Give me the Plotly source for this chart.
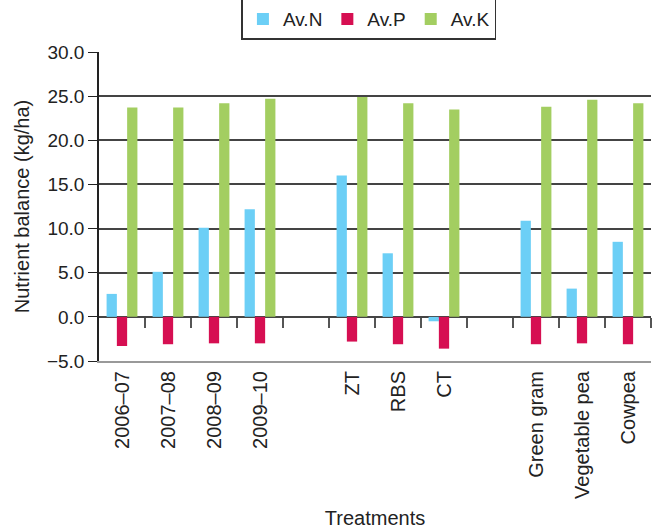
import plotly.graph_objects as go

# Slots along the x axis; None marks an empty spacer slot between groups
categories = ["2006–07", "2007–08", "2008–09", "2009–10", None,
              "ZT", "RBS", "CT", None,
              "Green gram", "Vegetable pea", "Cowpea"]

av_n = [2.6, 5.1, 10.1, 12.2, None, 16.0, 7.2, -0.5, None, 10.9, 3.2, 8.5]
av_p = [-3.3, -3.1, -3.0, -3.0, None, -2.8, -3.1, -3.6, None, -3.1, -3.0, -3.1]
av_k = [23.7, 23.7, 24.2, 24.7, None, 24.9, 24.2, 23.5, None, 23.8, 24.6, 24.2]

y_ticks = [-5, 0, 5, 10, 15, 20, 25, 30]

x_pos = list(range(len(categories)))
label_pos = [i for i, c in enumerate(categories) if c is not None]
label_txt = [c for c in categories if c is not None]
boundaries = [i + 0.5 for i in x_pos]

FONT = "Liberation Sans, Arial, sans-serif"
FS = 20

fig = go.Figure()
series = [("Av.N", av_n, "#6CCFF6"), ("Av.P", av_p, "#D60F52"), ("Av.K", av_k, "#A3CE61")]
for name, vals, col in series:
    fig.add_trace(go.Bar(x=x_pos, y=vals, name=name, marker=dict(color=col, line=dict(width=0))))

# helper trace bound to the label axis so it is rendered
fig.add_trace(go.Scatter(x=[x_pos[0]], y=[0], xaxis="x2", mode="markers",
                         marker=dict(opacity=0), showlegend=False, hoverinfo="skip"))

ymin, ymax = -5, 30
xr = [-0.5, len(categories) - 0.5]
fig.update_layout(
    width=655, height=529,
    margin=dict(l=99, r=4, t=52, b=168, autoexpand=False),
    paper_bgcolor="white", plot_bgcolor="white",
    barmode="group", bargap=0.33, bargroupgap=0,
    font=dict(family=FONT, size=FS, color="#222"),
    showlegend=True,
    legend=dict(orientation="h", x=0.489, xanchor="center", y=1.04, yanchor="bottom",
                bordercolor="#333", borderwidth=1.5, font=dict(size=19),
                itemsizing="constant", tracegroupgap=0),
    # axis along the zero line carrying the boundary tick marks
    xaxis=dict(range=xr, anchor="free", position=(0 - ymin) / (ymax - ymin),
               tickmode="array", tickvals=boundaries, ticks="outside", ticklen=10,
               tickwidth=1.5, tickcolor="#555", showticklabels=False,
               showgrid=False, zeroline=False, showline=False),
    # axis at the bottom carrying the category labels
    xaxis2=dict(range=xr, overlaying="x", anchor="y", side="bottom",
                tickmode="array", tickvals=label_pos, ticktext=label_txt, tickangle=-90,
                ticks="", showgrid=False, zeroline=False,
                showline=True, linecolor="#999", linewidth=2,
                title=dict(text="Treatments", font=dict(size=FS), standoff=14),
                tickfont=dict(size=FS)),
    yaxis=dict(range=[ymin, ymax], tickmode="array", tickvals=y_ticks,
               tickformat=".1f", ticks="outside", ticklen=9, tickcolor="#222",
               tickwidth=1.2, showline=True, linecolor="#222", linewidth=1.5,
               showgrid=True, gridcolor="#444", gridwidth=1.5,
               zeroline=True, zerolinecolor="#444", zerolinewidth=1.5,
               title=dict(text="Nutrient balance (kg/ha)", font=dict(size=FS), standoff=12),
               tickfont=dict(size=19)),
)

fig.write_html("out.html", config={"displayModeBar": False},
               post_script="document.body.style.margin='0';")
